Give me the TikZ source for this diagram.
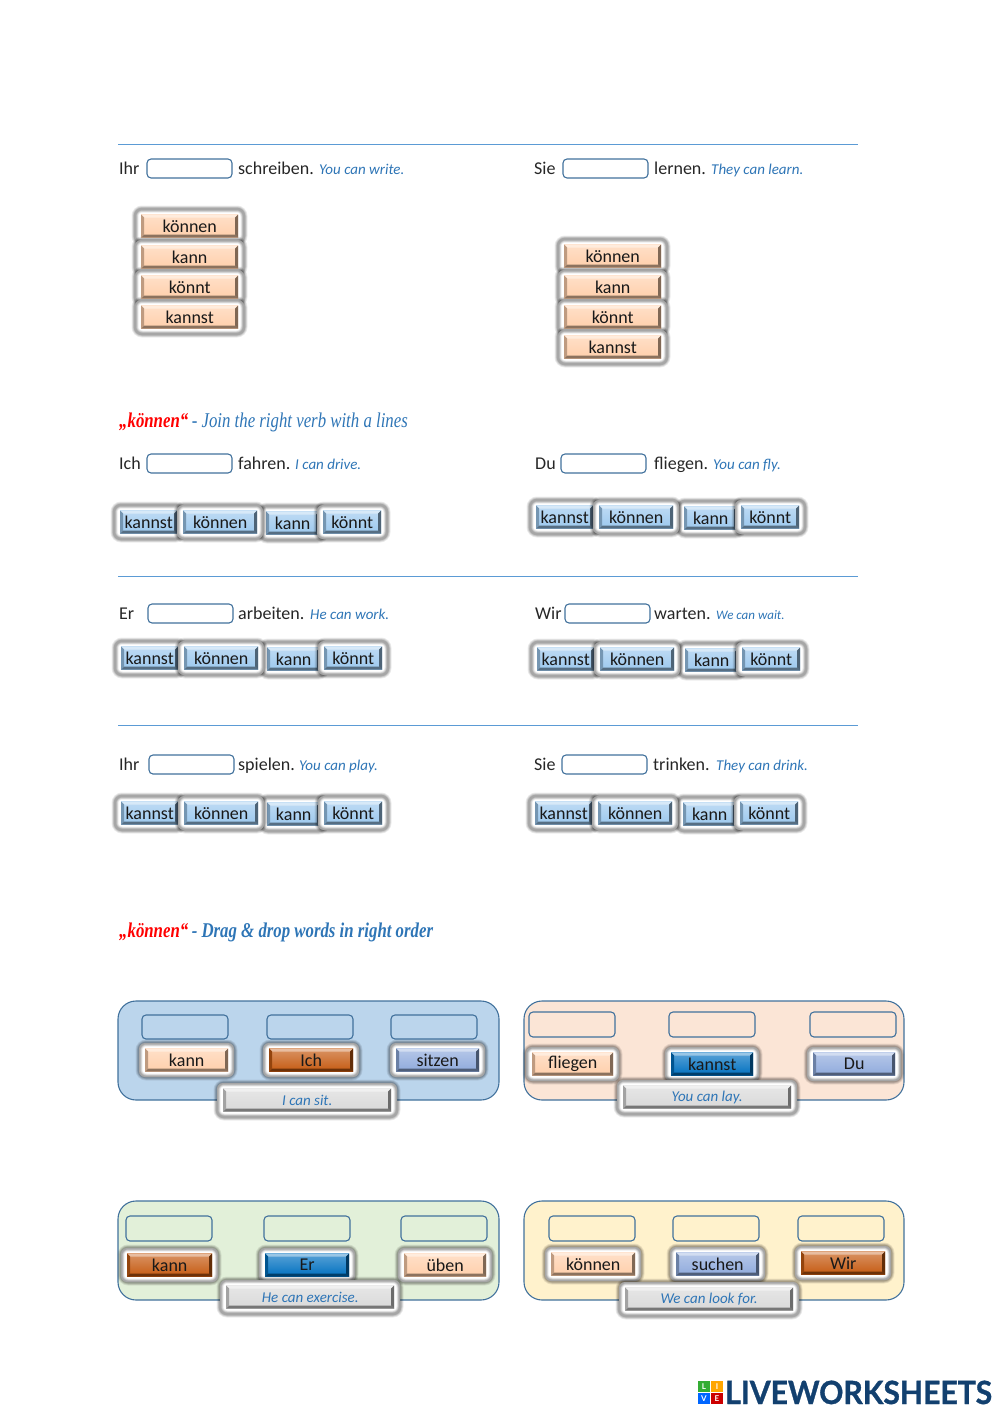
\documentclass[tikz,border=0pt]{standalone}
\usepackage{fontspec}
\setmainfont{Carlito}
\newfontfamily\headfont[FakeStretch=0.8]{Liberation Serif}
\newfontfamily\logofont[FakeStretch=0.94,FakeBold=1]{Lato}
\newfontfamily\logosmall{Lato}
\usepackage{tikz}

\definecolor{rulecol}{HTML}{5B9BD5}
\definecolor{slotcol}{HTML}{41719C}
\definecolor{glosscol}{HTML}{2E75B6}
\definecolor{peach}{HTML}{FFCFAB}
\definecolor{sky}{HTML}{9CC8EE}
\definecolor{peri}{HTML}{8FAADC}
\definecolor{burnt}{HTML}{C55A11}
\definecolor{azure}{HTML}{0070C0}
\definecolor{silver}{HTML}{D9D9D9}
\definecolor{panelblue}{HTML}{BBD5EC}
\definecolor{panelpeach}{HTML}{FBE5D6}
\definecolor{panelgreen}{HTML}{E2F0D9}
\definecolor{panelyellow}{HTML}{FFF2CC}
\definecolor{logoblue}{HTML}{12406F}

\tikzset{
  txt/.style={anchor=base west,inner sep=0pt,font=\fontsize{18}{20}\selectfont,text=black!85},
  gloss/.style={anchor=base west,inner sep=0pt,font=\fontsize{15}{16}\selectfont\itshape,text=glosscol},
  slot/.style={draw=slotcol,line width=1.1pt,rounded corners=4pt},
  panel/.style={draw=slotcol,line width=1.1pt,rounded corners=18pt},
  sep/.style={draw=rulecol,line width=0.8pt},
  bevel/.style={rectangle,anchor=west,inner sep=0pt,fill=#1,minimum height=23pt,
    font=\fontsize{18}{20}\selectfont,text=black!90,
    path picture={
      \path (path picture bounding box.south west) coordinate (bsw)
            (path picture bounding box.south east) coordinate (bse)
            (path picture bounding box.north west) coordinate (bnw)
            (path picture bounding box.north east) coordinate (bne);
      \shade[top color=#1!65!white,bottom color=#1] (bsw) rectangle (bne);
      \fill[#1!40!white] (bnw)--(bne)--([shift={(-3pt,-3pt)}]bne)--([shift={(3pt,-3pt)}]bnw)--cycle;
      \fill[#1!55!black] (bsw)--(bse)--([shift={(-3pt,3pt)}]bse)--([shift={(3pt,3pt)}]bsw)--cycle;
      \fill[#1!50!black] (bne)--(bse)--([shift={(-3pt,3pt)}]bse)--([shift={(-3pt,-3pt)}]bne)--cycle;
      \fill[#1!75!black] (bnw)--(bsw)--([shift={(3pt,3pt)}]bsw)--([shift={(3pt,-3pt)}]bnw)--cycle;
    }},
}

% halo round a button: left, middle, width
\newcommand{\halo}[3]{
  \fill[white,rounded corners=6pt] (#1-6,#2-17) rectangle (#1+#3+6,#2+17);
  \foreach \lw/\op in {7/.07,5.5/.09,4/.11,2.5/.13}{
    \draw[black,line width=\lw pt,opacity=\op,rounded corners=7pt]
      (#1-6,#2-17) rectangle (#1+#3+6,#2+17);
  }
}
% button: name, left, middle, width, colour, word
\newcommand{\btn}[6]{
  \node[bevel=#5,minimum width=#4 pt] (#1) at (#2,#3) {#6};
}
\newcommand{\glowbtn}[6]{
  \halo{#2}{#3}{#4}
  \btn{#1}{#2}{#3}{#4}{#5}{#6}
}
% row of verbs under a sentence
\newcommand{\verbrow}[4]{
  \glowbtn{#1kannst}{#2}{#3}{57}{sky}{kannst}
  \glowbtn{#1kann}{#2+146+#4}{#3+1}{53}{sky}{kann}
  \glowbtn{#1koennen}{#2+63}{#3}{74}{sky}{können}
  \glowbtn{#1koennt}{#2+203+#4}{#3}{58}{sky}{könnt}
}
% column of verbs
\newcommand{\verbcol}[3]{
  \halo{#2}{#3}{97}
  \halo{#2}{#3+31}{97}
  \halo{#2}{#3+61}{97}
  \halo{#2}{#3+91}{97}
  \btn{#1koennen}{#2}{#3}{97}{peach}{können}
  \btn{#1kann}{#2}{#3+31}{97}{peach}{kann}
  \btn{#1koennt}{#2}{#3+61}{97}{peach}{könnt}
  \btn{#1kannst}{#2}{#3+91}{97}{peach}{kannst}
}
% sentence: name, base line, x word, word, x slot, x verb, verb, x gloss, gloss
\newcommand{\sentence}[9]{
  \node[txt] (#1a) at (#3,#2) {#4};
  \draw[slot,fill=white] (#5,#2-15) rectangle (#5+85,#2+4);
  \node[txt] (#1b) at (#6,#2) {#7};
  \node[gloss] (#1c) at (#8,#2) {#9};
}
\newcommand{\hint}[1]{\fontsize{15}{16}\selectfont\itshape\textcolor{glosscol}{#1}}

\begin{document}
\begin{tikzpicture}[x=1pt,y=-1pt]
\useasboundingbox (0,0) rectangle (1000,1413);
%rules
\draw[sep] (118,144)--(858,144);
\draw[sep] (118,576.5)--(858,576.5);
\draw[sep] (118,725)--(858,725);
%sentences
\sentence{ihrA}{174}{119}{Ihr}{147}{238}{schreiben.}{319}{You can write.}
\sentence{sieA}{174}{534}{Sie}{563}{654}{lernen.}{711}{They can learn.}
\sentence{ich}{469}{119}{Ich}{147}{238}{fahren.}{295}{I can drive.}
\sentence{du}{469}{535}{Du}{561}{654}{fliegen.}{713}{You can fly.}
\sentence{er}{619}{119}{Er}{148}{238}{arbeiten.}{310}{He can work.}
\sentence{wir}{619}{535}{Wir}{565}{654}{warten.}{716}{\fontsize{13}{14}\selectfont We can wait.}
\sentence{ihrB}{770}{119}{Ihr}{149}{238}{spielen.}{299}{You can play.}
\sentence{sieB}{770}{534}{Sie}{562}{653}{trinken.}{716}{They can drink.}
%verbs
\verbcol{colA}{141}{226}
\verbcol{colB}{564}{256}
\verbrow{rowA}{120}{522}{0}
\verbrow{rowB}{536}{517}{2}
\verbrow{rowC}{121}{658}{0}
\verbrow{rowD}{537}{659}{2}
\verbrow{rowE}{121}{813}{0}
\verbrow{rowF}{535}{813}{2}
%headings
\node[anchor=base west,inner sep=0pt,font=\headfont\itshape\fontsize{21}{24}\selectfont,text=glosscol] (headA) at (119,427)
  {\textcolor{red}{\bfseries „können“}\,- Join the right verb with a lines};
\node[anchor=base west,inner sep=0pt,font=\headfont\itshape\bfseries\fontsize{21}{24}\selectfont,text=glosscol] (headB) at (119,937)
  {\textcolor{red}{„können“}\,- Drag \& drop words in right order};
%panel one
\draw[panel,fill=panelblue] (118,1001) rectangle (499,1100);
\draw[slot] (142,1015) rectangle (228,1039);
\draw[slot] (267,1015) rectangle (353,1039);
\draw[slot] (391,1015) rectangle (477,1039);
\glowbtn{oneA}{145}{1060}{83}{peach}{kann}
\glowbtn{oneB}{269}{1060}{84}{burnt}{Ich}
\glowbtn{oneC}{396}{1060}{83}{peri}{sitzen}
\glowbtn{oneD}{223}{1100}{168}{silver}{\hint{I can sit.}}
%panel two
\draw[panel,fill=panelpeach] (524,1001) rectangle (904,1100);
\draw[slot] (529,1012) rectangle (615,1037);
\draw[slot] (669,1012) rectangle (755,1037);
\draw[slot] (810,1012) rectangle (896,1037);
\glowbtn{twoA}{532}{1064}{81}{peach}{fliegen}
\glowbtn{twoB}{671}{1064}{82}{azure}{kannst}
\glowbtn{twoC}{813}{1064}{82}{peri}{Du}
\glowbtn{twoD}{623}{1097}{168}{silver}{\hint{You can lay.}}
%panel three
\draw[panel,fill=panelgreen] (118,1201) rectangle (499,1300);
\draw[slot] (126,1216) rectangle (212,1241);
\draw[slot] (264,1216) rectangle (350,1241);
\draw[slot] (401,1216) rectangle (487,1241);
\glowbtn{threeA}{127}{1265}{85}{burnt}{kann}
\glowbtn{threeB}{265}{1265}{84}{azure}{Er}
\glowbtn{threeC}{404}{1265}{82}{peach}{üben}
\glowbtn{threeD}{226}{1297}{168}{silver}{\hint{He can exercise.}}
%panel four
\draw[panel,fill=panelyellow] (524,1201) rectangle (904,1300);
\draw[slot] (549,1216) rectangle (635,1241);
\draw[slot] (673,1216) rectangle (759,1241);
\draw[slot] (798,1216) rectangle (884,1241);
\glowbtn{fourA}{551}{1264}{84}{peach}{können}
\glowbtn{fourB}{676}{1264}{83}{peri}{suchen}
\glowbtn{fourC}{801}{1263}{84}{burnt}{Wir}
\glowbtn{fourD}{625}{1299}{168}{silver}{\hint{We can look for.}}
%logo
\fill[green!60!black!80] (698,1381) rectangle (710,1392);
\fill[orange!70!yellow] (711,1381) rectangle (723,1392);
\fill[blue!60!cyan] (698,1393) rectangle (710,1404);
\fill[red!80!black] (711,1393) rectangle (723,1404);
\node[font=\logosmall\bfseries\fontsize{8}{8}\selectfont,text=white,inner sep=0pt] (logoL) at (704,1386.5) {L};
\node[font=\logosmall\bfseries\fontsize{8}{8}\selectfont,text=white,inner sep=0pt] (logoI) at (717,1386.5) {I};
\node[font=\logosmall\bfseries\fontsize{8}{8}\selectfont,text=white,inner sep=0pt] (logoV) at (704,1398.5) {V};
\node[font=\logosmall\bfseries\fontsize{8}{8}\selectfont,text=white,inner sep=0pt] (logoE) at (717,1398.5) {E};
\node[anchor=base west,inner sep=0pt,font=\logofont\bfseries\fontsize{32}{34}\selectfont,text=logoblue] (logo) at (725,1404) {LIVEWORKSHEETS};
\end{tikzpicture}
\end{document}
